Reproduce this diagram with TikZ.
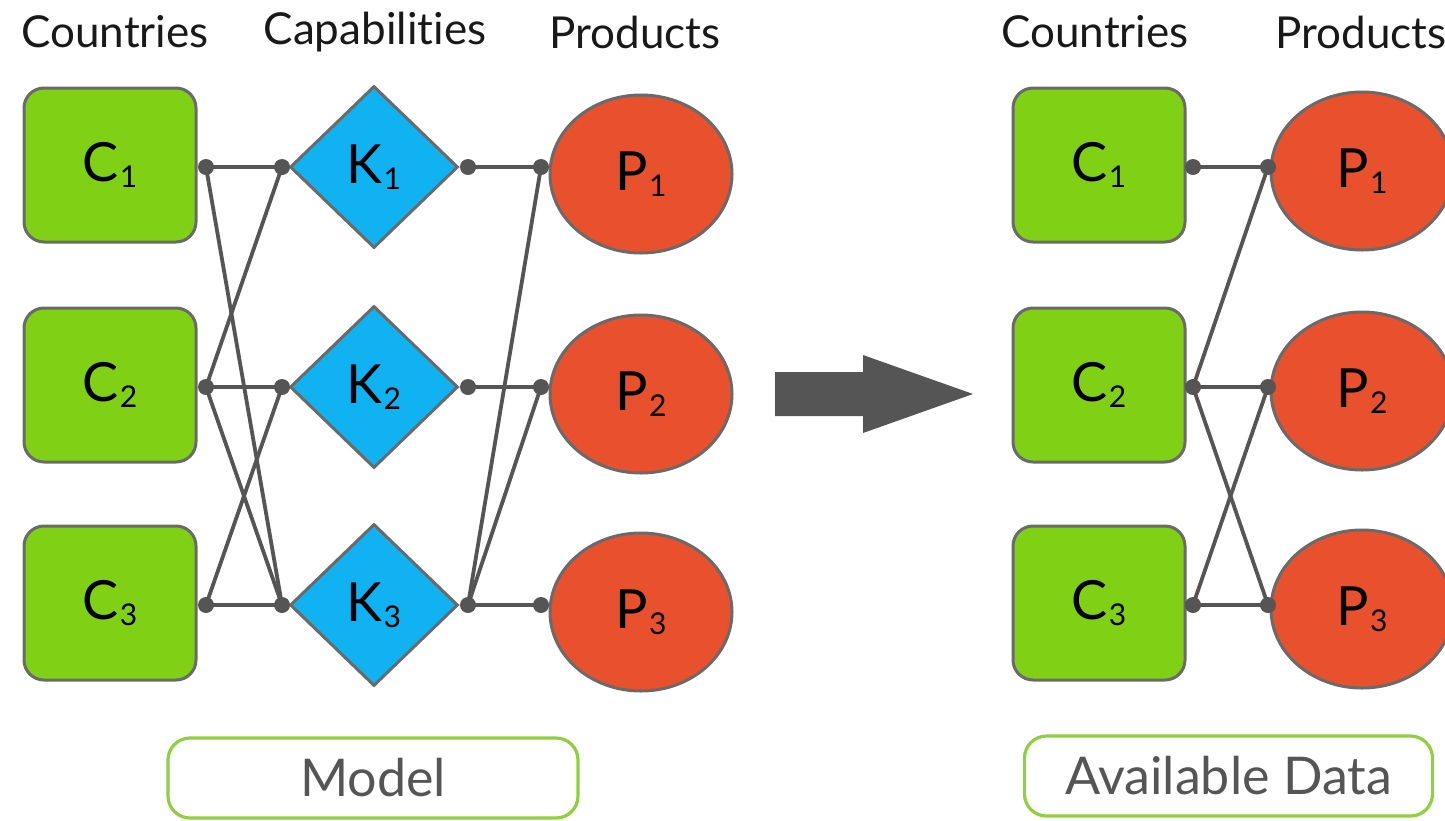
\documentclass[tikz,border=0pt]{standalone}
\usepackage{fontspec}
\setmainfont{Lato}[Ligatures=NoCommon]
\usetikzlibrary{shapes.geometric}
\definecolor{cgreen}{HTML}{80D016}
\definecolor{cblue}{HTML}{10B2F2}
\definecolor{cred}{HTML}{E8502E}
\definecolor{cborder}{HTML}{6A6A6A}
\definecolor{cline}{HTML}{555555}
\definecolor{cframe}{HTML}{8ED13C}
\definecolor{ctext}{HTML}{555555}
\newcommand\nodelabel[2]{#1\kern0.5pt\raisebox{-0.22ex}{\fontsize{15}{15}\selectfont #2}}
\tikzset{
  country/.style={draw=cborder, line width=1.5pt, fill=cgreen, rounded corners=10pt,
    minimum width=86pt, minimum height=77pt, inner sep=0pt, font=\fontsize{27}{27}\selectfont},
  capab/.style={draw=cborder, line width=1.5pt, fill=cblue, diamond, inner sep=0pt,
    minimum width=84pt, minimum height=81pt, font=\fontsize{27}{27}\selectfont},
  product/.style={draw=cborder, line width=1.5pt, fill=cred, ellipse, inner sep=0pt,
    minimum width=91pt, minimum height=79pt, font=\fontsize{27}{27}\selectfont},
  header/.style={font=\fontsize{22}{22}\selectfont, text=black!90, inner sep=0pt},
  framebox/.style={draw=cframe, line width=1.6pt, rounded corners=11pt, text=ctext,
    font=\fontsize{26}{26}\selectfont, inner sep=0pt},
  link/.style={draw=cline, line width=1.9pt},
  dotc/.style={fill=cline}
}
\begin{document}
\begin{tikzpicture}[x=0.5pt,y=-0.5pt]
\useasboundingbox (0,0) rectangle (1445,820);
% headers
\node[header] (h1) at (115,32) {Countries};
\node[header] (h2) at (375,32) {Capabilities};
\node[header] (h3) at (635,32) {Products};
\node[header] (h4) at (1095,32) {Countries};
\node[header] (h5) at (1361,32) {Products};
% left model
\foreach \i/\y in {1/167,2/387,3/605}{
  \node[country] (C\i) at (110,\y-2) {\nodelabel{C}{\i}};
  \node[capab] (K\i) at (374,\y) {\nodelabel{K}{\i}};
  \node[product] (P\i) at (641,\y+7) {\nodelabel{P}{\i}};
  \coordinate (c\i) at (206,\y);
  \coordinate (kl\i) at (282,\y);
  \coordinate (kr\i) at (468,\y);
  \coordinate (p\i) at (541,\y);
  % right data
  \node[country] (D\i) at (1099,\y-2) {\nodelabel{C}{\i}};
  \node[product] (Q\i) at (1362,\y+4) {\nodelabel{P}{\i}};
  \coordinate (d\i) at (1193,\y);
  \coordinate (q\i) at (1268,\y);
}
% model links
\draw[link] (c1) -- (kl1);
\draw[link] (c1) -- (kl3);
\draw[link] (c2) -- (kl1);
\draw[link] (c2) -- (kl2);
\draw[link] (c2) -- (kl3);
\draw[link] (c3) -- (kl2);
\draw[link] (c3) -- (kl3);
\draw[link] (kr1) -- (p1);
\draw[link] (kr2) -- (p2);
\draw[link] (kr3) -- (p1);
\draw[link] (kr3) -- (p2);
\draw[link] (kr3) -- (p3);
% data links
\draw[link] (d1) -- (q1);
\draw[link] (d2) -- (q1);
\draw[link] (d2) -- (q2);
\draw[link] (d2) -- (q3);
\draw[link] (d3) -- (q2);
\draw[link] (d3) -- (q3);
% dots
\foreach \n in {c1,c2,c3,kl1,kl2,kl3,kr1,kr2,kr3,p1,p2,p3,d1,d2,d3,q1,q2,q3}{
  \fill[dotc] (\n) circle[radius=4pt];
}
% big arrow
\fill[cline] (775,372) -- (863,372) -- (863,355) -- (973,394) -- (863,433) -- (863,416) -- (775,416) -- cycle;
% frames
\node[framebox, minimum width=205pt, minimum height=40pt] (model) at (373,778) {Model};
\node[framebox, minimum width=204pt, minimum height=40pt] (data) at (1228.5,776) {Available Data};
\end{tikzpicture}
\end{document}
